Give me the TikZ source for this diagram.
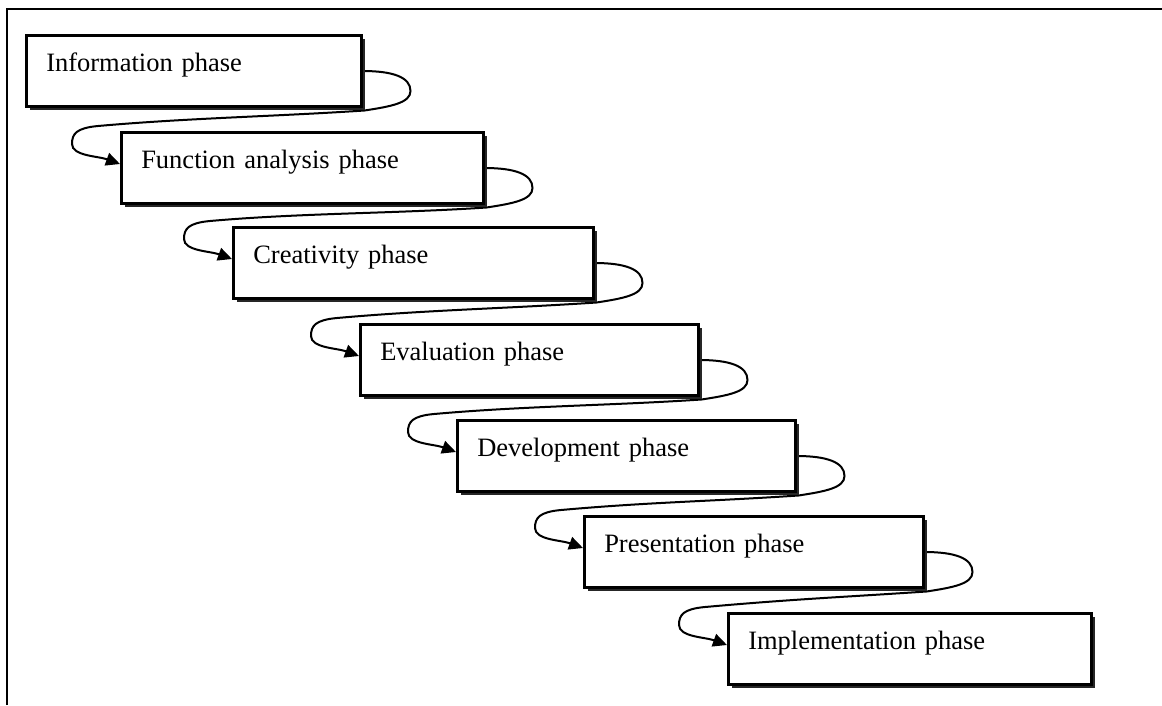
\documentclass[tikz,border=0pt]{standalone}
\usepackage{fontspec}
\setmainfont{Liberation Serif}
\usetikzlibrary{calc,shadows,arrows.meta}

\pgfdeclarelayer{linklayer}
\pgfsetlayers{linklayer,main}

\tikzset{
  phasebox/.style={draw, line width=2.5pt, fill=white, rectangle, anchor=north west,
    inner xsep=20pt, inner ysep=0pt, align=left,
    text height=36pt, text depth=35pt,
    font=\fontsize{26.5}{30}\selectfont,
    drop shadow={shadow xshift=4pt, shadow yshift=-4pt, fill=black!85, opacity=1}},
  link/.style={line width=2pt, -{Triangle[length=14pt,width=13pt]}},
  frameline/.style={line width=2.6pt}
}

% curved link: out of the right side of #1, round under its corner,
% then back to the left and into the left side of #2
\newcommand\phaselink[2]{%
  \draw[link] ($(#1.north east)+(0,37)$)
    .. controls +(30,0) and +(0,-14) .. ($(#1.north east)+(48,57)$)
    .. controls +(0,12) and +(26,-4) .. ($(#1.south east)+(2,3)$)
    .. controls +(-90,6) and +(90,-8) .. ($(#2.north west)+(-22,-5)$)
    .. controls +(-22,2) and +(0,-10) .. ($(#2.north west)+(-48,13)$)
    .. controls +(0,12) and +(-22,-8) .. ($(#2.north west)+(0,33)$);}

\begin{document}
\begin{tikzpicture}[x=1pt,y=-1pt]
  \useasboundingbox (0,0) rectangle (1162,705);

  % open frame: top and left edges only
  \coordinate (fl) at (7,705);
  \coordinate (ftl) at (7,9);
  \coordinate (fr) at (1162,9);
  \draw[frameline] (fl) -- (ftl) -- (fr);

  % phase boxes
  \path
    (25,34)   node[phasebox, text width=295pt] (b1) {Information phase}
    (120,131) node[phasebox, text width=322pt] (b2) {Function analysis phase}
    (232,226) node[phasebox, text width=320pt] (b3) {Creativity phase}
    (359,323) node[phasebox, text width=298pt] (b4) {Evaluation phase}
    (456,419) node[phasebox, text width=298pt] (b5) {Development phase}
    (583,515) node[phasebox, text width=299pt] (b6) {Presentation phase}
    (727,612) node[phasebox, text width=323pt] (b7) {Implementation phase};

  % connectors, drawn behind the boxes
  \begin{pgfonlayer}{linklayer}
    \phaselink{b1}{b2}
    \phaselink{b2}{b3}
    \phaselink{b3}{b4}
    \phaselink{b4}{b5}
    \phaselink{b5}{b6}
    \phaselink{b6}{b7}
  \end{pgfonlayer}
\end{tikzpicture}
\end{document}
